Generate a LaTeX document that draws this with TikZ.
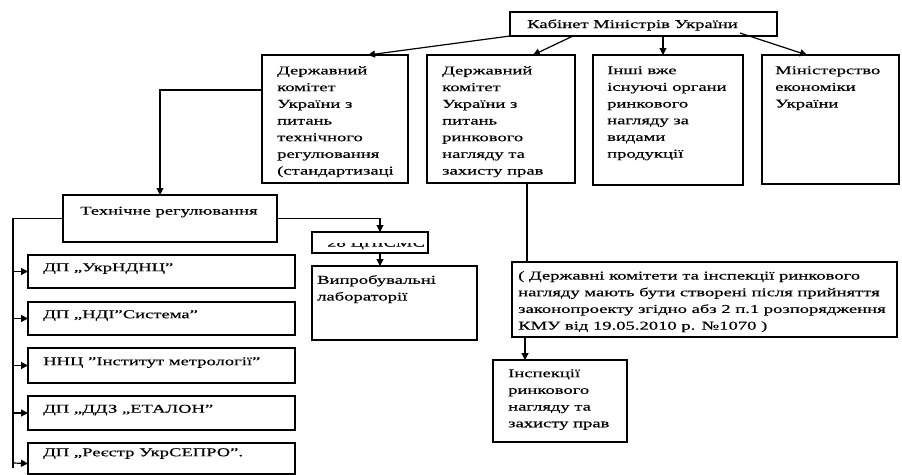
\documentclass[tikz,border=0pt]{standalone}
\usepackage{fontspec}
\setmainfont{Liberation Serif}[FakeStretch=1.55,FakeBold=0.4]
\usetikzlibrary{arrows.meta,calc}
\begin{document}
\begin{tikzpicture}[x=1pt,y=-1pt,
  box/.style={draw, line width=1.3pt, anchor=north west, inner sep=0pt, outer sep=0pt},
  txt/.style={anchor=north west, inner sep=0pt, align=left, font=\fontsize{12}{16.7}\selectfont},
  ltxt/.style={anchor=west, inner sep=0pt, font=\fontsize{12}{13}\selectfont},
  arr/.style={line width=1.2pt, -{Triangle[length=7pt,width=7pt]}},
  ln/.style={line width=1.2pt}]
\useasboundingbox (0,0) rectangle (902,474);

% boxes
\node[box, minimum width=267pt, minimum height=24pt] (K) at (510,12) {};
\node[box, minimum width=146pt, minimum height=128pt] (A) at (262,55) {};
\node[box, minimum width=148pt, minimum height=128pt] (B) at (427,55) {};
\node[box, minimum width=150pt, minimum height=130pt] (C) at (593,55) {};
\node[box, minimum width=137pt, minimum height=129pt] (D) at (762,55) {};
\node[box, minimum width=214pt, minimum height=47pt] (T) at (63,195) {};
\node[box, minimum width=116pt, minimum height=21pt] (Z) at (312,232) {};
\node[box, minimum width=165pt, minimum height=74pt] (V) at (312,266) {};
\node[box, minimum width=385pt, minimum height=75pt] (N) at (512,262) {};
\node[box, minimum width=134pt, minimum height=82pt] (I) at (493,360) {};
\node[box, minimum width=267pt, minimum height=33pt] (P1) at (28,255) {};
\node[box, minimum width=267pt, minimum height=33pt] (P2) at (28,302) {};
\node[box, minimum width=267pt, minimum height=35pt] (P3) at (28,348) {};
\node[box, minimum width=267pt, minimum height=34pt] (P4) at (28,396) {};
\node[box, minimum width=267pt, minimum height=31pt] (P5) at (28,443) {};

% texts
\node[ltxt] (Kt) at (527,25) {Кабінет Міністрів України};
\node[txt] (At) at (277,66) {Державний\\комітет\\ України з\\питань\\технічного\\регулювання\\(стандартизаці};
\node[txt] (Bt) at (442,66) {Державний\\комітет\\ України з\\питань\\ринкового\\нагляду та\\захисту прав};
\node[txt] (Ct) at (607,66) {Інші вже\\існуючі органи\\ринкового\\нагляду за\\ видами\\продукції};
\node[txt] (Dt) at (775,66) {Міністерство\\економіки\\ України};
\node[ltxt] (Tt) at (80,212) {Технічне регулювання};
\begin{scope}
  \clip (313,243) rectangle (427,252);
  \node[ltxt] (Zt) at (327,244) {28 ЦПІСМС};
\end{scope}
\node[txt] (Vt) at (317,275) {Випробувальні\\лабораторії};
\node[txt] (Nt) at (518,271) {( Державні комітети та інспекції ринкового\\нагляду мають бути створені після прийняття\\законопроекту згідно абз 2 п.1 розпорядження\\КМУ від 19.05.2010 р. №1070 )};
\node[txt] (It) at (508,369) {Інспекції\\ринкового\\нагляду та\\захисту прав};
\node[ltxt] (P1t) at ([xshift=15pt,yshift=3pt]P1.west) {ДП „УкрНДНЦ”};
\node[ltxt] (P2t) at ([xshift=15pt,yshift=3pt]P2.west) {ДП „НДІ”Система”};
\node[ltxt] (P3t) at ([xshift=15pt,yshift=3pt]P3.west) {ННЦ ”Інститут метрології”};
\node[ltxt] (P4t) at ([xshift=15pt,yshift=3pt]P4.west) {ДП „ДДЗ „ЕТАЛОН”};
\node[ltxt] (P5t) at ([xshift=15pt,yshift=5pt]P5.west) {ДП „Реєстр  УкрСЕПРО”.};

% connectors
\draw[arr] (K.south west) -- ($(A.north west)+(106,0)$);
\draw[arr] ($(K.south west)+(63,0)$) -- ($(B.north west)+(106,0)$);
\draw[arr] ($(K.south west)+(153,0)$) -- ($(C.north west)+(70,0)$);
\draw[arr] ($(K.south west)+(230,-3)$) -- ($(D.north west)+(45,0)$);
\draw[arr] ($(A.north west)+(0,35)$) -| ($(T.north west)+(97,0)$);
\coordinate (busend) at (13,468);
\draw[ln] (T.west) -| (busend);
\foreach \p in {P1,P2,P3,P4} \draw[arr] (busend |- \p.west) -- (\p.west);
\draw[arr] ($(busend)+(0,-5)$) -- ($(P5.west)+(0,5)$);
\draw[arr] (T.east) -| ($(Z.north west)+(68,0)$);
\draw[arr] ($(Z.south west)+(68,0)$) -- ($(V.north west)+(68,0)$);
\draw[ln] ($(B.south west)+(100,0)$) -- ($(N.north west)+(15,0)$);
\draw[arr] ($(N.south west)+(13,0)$) -- ($(I.north west)+(32,0)$);
\end{tikzpicture}
\end{document}
